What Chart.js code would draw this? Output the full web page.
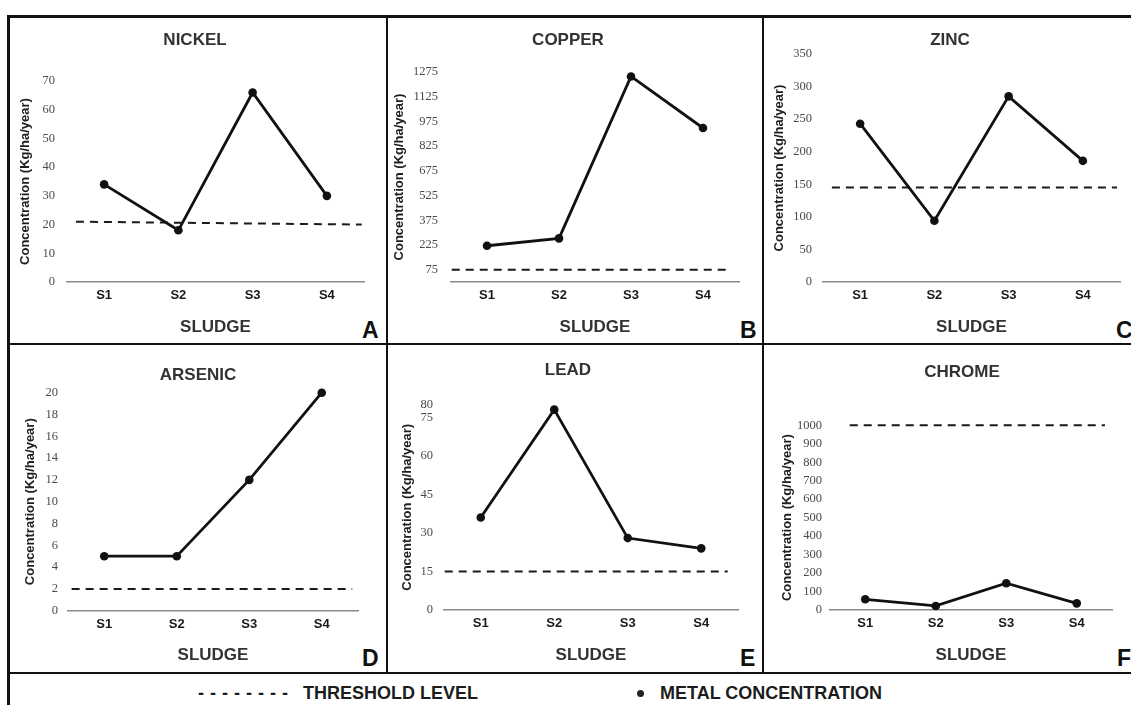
<!DOCTYPE html>
<html>
<head>
<meta charset="utf-8">
<script src="https://cdn.jsdelivr.net/npm/chart.js@4.4.1/dist/chart.umd.min.js"></script>
<style>
  html, body { margin: 0; padding: 0; background: #fff; overflow: hidden; }
  body { width: 1131px; height: 705px; position: relative; font-family: "Liberation Sans", Arial, sans-serif; }
  canvas { position: absolute; }
  .rule { position: absolute; background: #111; z-index: 2; }
  .letter { position: absolute; font-weight: bold; font-size: 23px; line-height: 23px; color: #111; }
  .legend { position: absolute; top: 683px; font-weight: bold; font-size: 18px; line-height: 20px; color: #1c1c1c; white-space: nowrap; }
  .dot { position: absolute; left: 637px; top: 690px; width: 7px; height: 7px; border-radius: 50%; background: #222; }
</style>
</head>
<body>

<!-- frame -->
<div class="rule" style="left:7px;top:15px;width:3px;height:690px"></div>
<div class="rule" style="left:7px;top:15px;width:1124px;height:3px"></div>
<div class="rule" style="left:386px;top:16px;width:2px;height:657px"></div>
<div class="rule" style="left:762px;top:16px;width:2px;height:657px"></div>
<div class="rule" style="left:7px;top:343px;width:1124px;height:2px"></div>
<div class="rule" style="left:7px;top:672px;width:1124px;height:2px"></div>

<div class="letter" style="left:362px;top:319px">A</div>
<div class="letter" style="left:740px;top:319px">B</div>
<div class="letter" style="left:1116px;top:319px">C</div>
<div class="letter" style="left:362px;top:647px">D</div>
<div class="letter" style="left:740px;top:647px">E</div>
<div class="letter" style="left:1117px;top:647px">F</div>

<div class="legend" style="left:198px;letter-spacing:6px">--------</div>
<div class="legend" style="left:303px">THRESHOLD LEVEL</div>
<div class="dot"></div>
<div class="legend" style="left:660px">METAL CONCENTRATION</div>

<script>
const sludges = ['S1', 'S2', 'S3', 'S4'];
const metals = ['NICKEL', 'COPPER', 'ZINC', 'ARSENIC', 'LEAD', 'CHROME'];

// metal concentration (Kg/ha/year) for S1..S4
const nickel = [34, 18, 66, 30];
const copper = [220, 265, 1248, 935];
const zinc = [243, 94, 285, 186];
const arsenic = [5, 5, 12, 20];
const lead = [36, 78, 28, 24];
const chrome = [58, 22, 145, 36];

// threshold level, value at the start and the end of the dashed line
const thresholdStart = [21, 75, 145, 2, 15, 1000];
const thresholdEnd = [20, 75, 145, 2, 15, 1000];
// extent of the dashed line along the sludge axis (1 = S1 ... 4 = S4)
const thresholdFrom = [0.62, 0.51, 0.62, 0.55, 0.51, 0.78];
const thresholdTo = [4.47, 4.35, 4.46, 4.42, 4.36, 4.40];

// y tick labels
const nickelTicks = [0, 10, 20, 30, 40, 50, 60, 70];
const copperTicks = [75, 225, 375, 525, 675, 825, 975, 1125, 1275];
const zincTicks = [0, 50, 100, 150, 200, 250, 300, 350];
const arsenicTicks = [0, 2, 4, 6, 8, 10, 12, 14, 16, 18, 20];
const leadTicks = [0, 15, 30, 45, 60, 75, 80];
const chromeTicks = [0, 100, 200, 300, 400, 500, 600, 700, 800, 900, 1000];

const seriesList = [nickel, copper, zinc, arsenic, lead, chrome];
const tickList = [nickelTicks, copperTicks, zincTicks, arsenicTicks, leadTicks, chromeTicks];

// page geometry of each panel (canvas box and plot area, in page pixels)
const panels = [
  { left: 10, top: 18, width: 370, height: 325, area: [67, 81, 364, 282], titleY: 40, sludgeY: 327, yTitleX: 25, tickPad: 12 },
  { left: 388, top: 18, width: 360, height: 325, area: [451, 72, 739, 282], titleY: 40, sludgeY: 327, yTitleX: 399, tickPad: 13 },
  { left: 764, top: 18, width: 372, height: 325, area: [823, 54, 1120, 282], titleY: 40, sludgeY: 327, yTitleX: 779, tickPad: 11 },
  { left: 10, top: 345, width: 376, height: 327, area: [68, 392.7, 358, 610.7], titleY: 375, sludgeY: 655, yTitleX: 30, tickPad: 10 },
  { left: 388, top: 345, width: 360, height: 327, area: [444, 404.5, 738, 610], titleY: 370, sludgeY: 655, yTitleX: 407, tickPad: 11 },
  { left: 764, top: 345, width: 396, height: 327, area: [830, 425.3, 1112, 610], titleY: 372, sludgeY: 655, yTitleX: 787, tickPad: 8 }
];

const TITLE_SIZE = 17;
const YTITLE_SIZE = 13;
const XTITLE_SIZE = 17;

function buildPanel(i) {
  const geo = panels[i];
  const values = seriesList[i];
  const ticks = tickList[i];

  const canvas = document.createElement('canvas');
  canvas.width = geo.width;
  canvas.height = geo.height;
  canvas.style.left = geo.left + 'px';
  canvas.style.top = geo.top + 'px';
  document.body.appendChild(canvas);

  // plot area relative to the canvas
  const aL = geo.area[0] - geo.left;
  const aT = geo.area[1] - geo.top;
  const aR = geo.area[2] - geo.left;
  const aB = geo.area[3] - geo.top;

  const titleLh = TITLE_SIZE * 1.2;
  const titleTop = geo.titleY - geo.top - titleLh / 2;
  const titleBottom = aT - titleTop - titleLh;

  const yTitlePad = (geo.yTitleX - geo.left) - YTITLE_SIZE * 1.2 / 2;
  const xTitlePad = (geo.height - (geo.sludgeY - geo.top)) - XTITLE_SIZE * 1.2 / 2;

  new Chart(canvas.getContext('2d'), {
    type: 'line',
    data: {
      datasets: [
        {
          label: 'METAL CONCENTRATION',
          data: values.map((v, k) => ({ x: k + 1, y: v })),
          borderColor: '#111',
          borderWidth: 2.8,
          pointRadius: 4.3,
          pointBackgroundColor: '#111',
          pointBorderWidth: 0,
          tension: 0,
          clip: false
        },
        {
          label: 'THRESHOLD LEVEL',
          data: [
            { x: thresholdFrom[i], y: thresholdStart[i] },
            { x: thresholdTo[i], y: thresholdEnd[i] }
          ],
          borderColor: '#1a1a1a',
          borderWidth: 2,
          borderDash: [8, 6],
          pointRadius: 0,
          clip: false
        }
      ]
    },
    options: {
      responsive: false,
      animation: false,
      devicePixelRatio: 1,
      layout: { padding: 0 },
      plugins: {
        legend: { display: false },
        tooltip: { enabled: false },
        title: {
          display: true,
          text: metals[i],
          color: '#333',
          font: { family: '"Liberation Sans", Arial, sans-serif', size: TITLE_SIZE, weight: 'bold' },
          padding: { top: titleTop, bottom: titleBottom }
        }
      },
      scales: {
        x: {
          type: 'linear',
          min: 0.5,
          max: 4.5,
          grid: { display: false, drawTicks: false },
          border: { display: true, color: '#8a8a8a', width: 1.5 },
          afterBuildTicks: (scale) => { scale.ticks = sludges.map((s, k) => ({ value: k + 1 })); },
          afterFit: (scale) => { scale.height = geo.height - aB; },
          ticks: {
            padding: 6,
            color: '#1a1a1a',
            font: { family: '"Liberation Sans", Arial, sans-serif', size: 13, weight: 'bold' },
            callback: (v) => sludges[Math.round(v) - 1]
          },
          title: {
            display: true,
            text: 'SLUDGE',
            color: '#333',
            font: { family: '"Liberation Sans", Arial, sans-serif', size: XTITLE_SIZE, weight: 'bold' },
            padding: { top: 0, bottom: xTitlePad }
          }
        },
        y: {
          type: 'linear',
          position: 'left',
          min: 0,
          max: ticks[ticks.length - 1],
          grid: { display: false, drawTicks: false },
          border: { display: false },
          afterBuildTicks: (scale) => { scale.ticks = ticks.map(v => ({ value: v })); },
          afterFit: (scale) => { scale.width = aL; },
          ticks: {
            padding: geo.tickPad,
            color: '#4a4a4a',
            font: { family: '"Liberation Serif", "Times New Roman", serif', size: 12.5 },
            callback: (v) => String(v)
          },
          title: {
            display: true,
            text: 'Concentration (Kg/ha/year)',
            color: '#1e1e1e',
            font: { family: '"Liberation Sans", Arial, sans-serif', size: YTITLE_SIZE, weight: 'bold' },
            padding: { top: yTitlePad, bottom: 0 }
          }
        },
        // empty right-hand axis, only keeps the plot clear of the panel edge
        yr: {
          type: 'linear',
          position: 'right',
          grid: { display: false, drawTicks: false },
          border: { display: false },
          ticks: { display: false },
          afterFit: (scale) => { scale.width = geo.width - aR; }
        }
      }
    }
  });
}

for (let i = 0; i < panels.length; i++) {
  buildPanel(i);
}
</script>
</body>
</html>
